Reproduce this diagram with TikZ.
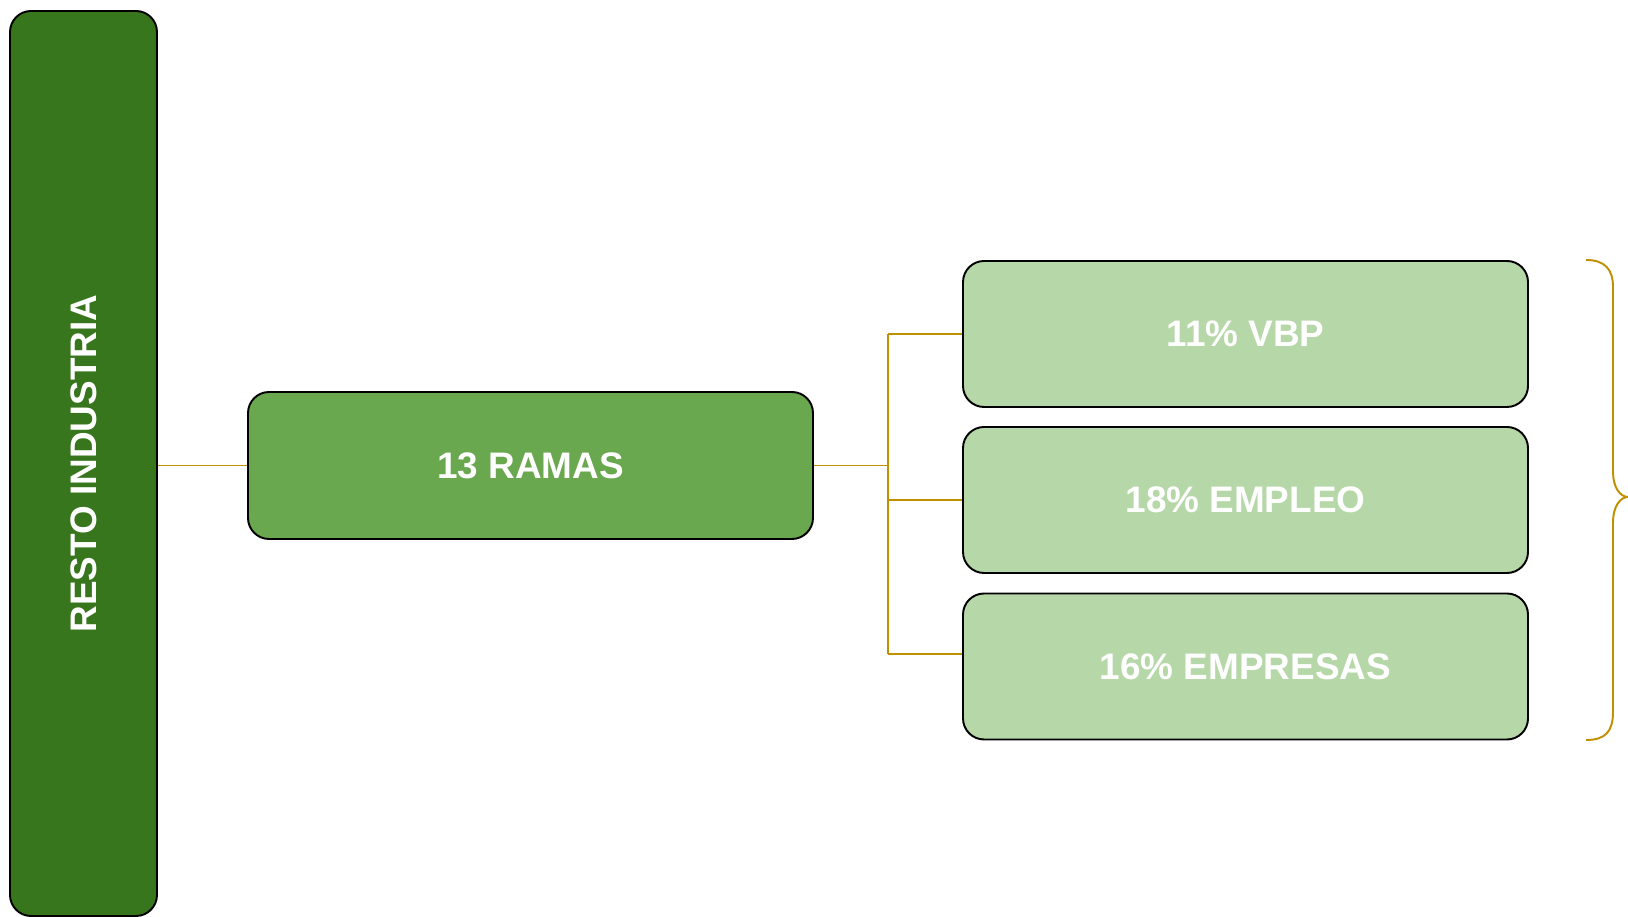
\documentclass[tikz,border=0pt]{standalone}
\usepackage{fontspec}
\setmainfont{Liberation Sans}
\usepackage{tikz}
\usetikzlibrary{arrows,positioning,calc}
\definecolor{darkgreen}{HTML}{38761D}
\definecolor{midgreen}{HTML}{6AA84F}
\definecolor{lightgreen}{HTML}{B6D7A8}
\definecolor{gold}{HTML}{BF9000}
\tikzstyle{box}=[draw=black,line width=1.1pt,rounded corners=12pt,text=white,font=\fontsize{21}{25}\selectfont\bfseries,inner sep=0pt]
\tikzstyle{share}=[box,fill=lightgreen,minimum width=11.3cm,minimum height=2.92cm]
\tikzstyle{link}=[draw=gold,line width=1.1pt]

\begin{document}
\begin{tikzpicture}
      \useasboundingbox (0,0) rectangle (32.56,18.34);
      \node[box,fill=darkgreen,minimum width=2.94cm,minimum height=18.1cm] at (1.67, 9.07) (resto) {};
      \node[rotate=90,text=white,font=\fontsize{21}{25}\selectfont\bfseries] at (resto.center) (restolbl) {RESTO INDUSTRIA};
      \node[box,fill=midgreen,minimum width=11.3cm,minimum height=2.94cm] at (10.61, 9.03) (ramas) {13 RAMAS};
      \node[share] at (24.91, 11.66) (vbp) {11\% VBP};
      \node[share] at (24.91,  8.34) (empleo) {18\% EMPLEO};
      \node[share] at (24.91,  5.01) (empresas) {16\% EMPRESAS};
      \coordinate (j) at (17.76, 9.03);
      \coordinate (k) at ($(empresas.west)+(0,0.25)$);
      \draw[link] (ramas.west -| resto.east) -- (ramas.west);
      \draw[link] (ramas.east) -- (j);
      \draw[link] (j |- vbp.west) -- (j |- k);
      \draw[link] (j |- vbp.west) -- (vbp.west);
      \draw[link] (j |- empleo.west) -- (empleo.west);
      \draw[link] (j |- k) -- (k);
      % brace
      \draw[gold,line width=1.1pt] (31.72,13.14) .. controls (32.1,13.14) and (32.26,12.95) .. (32.26,12.6)
        -- (32.26,8.9) .. controls (32.26,8.6) and (32.4,8.4) .. (32.56,8.4)
        .. controls (32.4,8.4) and (32.26,8.2) .. (32.26,7.9)
        -- (32.26,4.1) .. controls (32.26,3.7) and (32.1,3.54) .. (31.72,3.54);
\end{tikzpicture}
\end{document}
